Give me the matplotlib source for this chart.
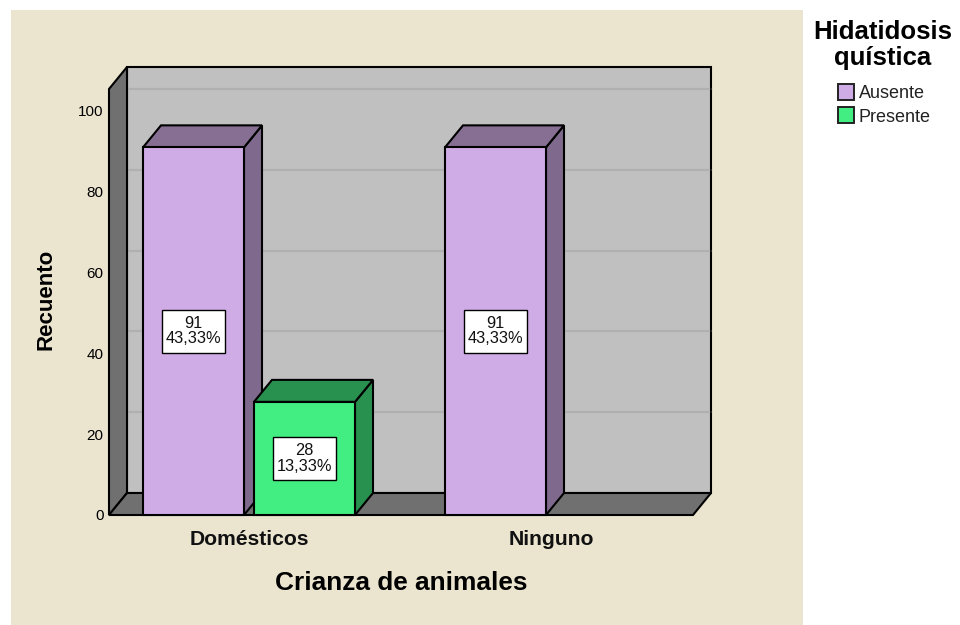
import matplotlib
matplotlib.use("Agg")
import matplotlib.pyplot as plt
from matplotlib.patches import Polygon, Rectangle

categories = ["Domésticos", "Ninguno"]
series_names = ["Ausente", "Presente"]
ausente = [91, 91]
presente = [28, None]
ausente_labels = ["91\n43,33%", "91\n43,33%"]
presente_labels = ["28\n13,33%", None]
y_ticks = [0, 20, 40, 60, 80, 100]

W, H = 960, 625
PANEL = "#ebe5d0"
WALL = "#c0c0c0"
DARK_WALL = "#707070"
GRID = "#b0b0b0"
C_A, C_A_TOP, C_A_SIDE = "#d0ace6", "#866f93", "#7f6a8d"
C_P, C_P_TOP, C_P_SIDE = "#42ee82", "#29914f", "#29914f"
LW = 1.5

plt.rcParams["font.family"] = ["Liberation Sans", "DejaVu Sans"]
fig = plt.figure(figsize=(W / 100, H / 100), dpi=100, facecolor="white")

def fx(p): return p / W
def fy(p): return 1 - p / H

fig.patches.append(Rectangle((fx(11), fy(625)), 792 / W, 615 / H, transform=fig.transFigure,
                             facecolor=PANEL, edgecolor="none", zorder=-5))

L, R, B, T = 109, 693, 515, 89
ax = fig.add_axes([fx(L), fy(B), (R - L) / W, (B - T) / H])
ax.patch.set_visible(False)
PX = 302.0
PY = 4.04
ax.set_xlim((L - 249) / PX, (R - 249) / PX)
ax.set_ylim(0, (B - T) / PY)
DX, DY = 18 / PX, 22 / PY
x0, x1 = ax.get_xlim()
y1 = ax.get_ylim()[1]

def poly(pts, fc, z, ec="black", lw=LW):
    ax.add_patch(Polygon(pts, closed=True, facecolor=fc, edgecolor=ec, linewidth=lw,
                         zorder=z, clip_on=False, joinstyle="miter"))

# back wall, gridlines, left wall, floor
poly([(x0 + DX, DY), (x1 + DX, DY), (x1 + DX, y1 + DY), (x0 + DX, y1 + DY)], WALL, 1)
for t in y_ticks[1:]:
    ax.plot([x0 + DX, x1 + DX], [t + DY, t + DY], color=GRID, lw=1.6, zorder=1.1, clip_on=False)
poly([(x0, 0), (x0 + DX, DY), (x0 + DX, y1 + DY), (x0, y1)], DARK_WALL, 1.2)
poly([(x0, 0), (x1, 0), (x1 + DX, DY), (x0 + DX, DY)], DARK_WALL, 1.2)
ax.plot([x0 + DX, x1 + DX, x1 + DX, x0 + DX, x0 + DX],
        [DY, DY, y1 + DY, y1 + DY, DY], color="black", lw=1.2, zorder=1.3, clip_on=False)

BOX_W, BOX_H = 63 / PX, 43 / PY

def bar3d(x, v, w, front, top, side, label):
    l, r = x - w / 2, x + w / 2
    poly([(r, 0), (r + DX, DY), (r + DX, v + DY), (r, v)], side, 3)
    poly([(l, v), (r, v), (r + DX, v + DY), (l + DX, v + DY)], top, 3)
    ax.bar([x], [v], width=w, color=front, edgecolor="black", linewidth=LW, zorder=3.5, clip_on=False)
    ax.add_patch(Rectangle((x - BOX_W / 2, v / 2 - BOX_H / 2), BOX_W, BOX_H, facecolor="white",
                           edgecolor="black", linewidth=1.0, zorder=4.5))
    ax.text(x, v / 2, label, ha="center", va="center", fontsize=11.8, color="#111111", zorder=5,
            linespacing=1.03)

W_BAR = 101 / PX
OFF = 55.5 / PX
for i in range(len(categories)):
    bar3d(i - OFF, ausente[i], W_BAR, C_A, C_A_TOP, C_A_SIDE, ausente_labels[i])
    if presente[i] is not None:
        bar3d(i + OFF, presente[i], W_BAR, C_P, C_P_TOP, C_P_SIDE, presente_labels[i])

for s in ax.spines.values():
    s.set_visible(False)
ax.set_xticks(range(len(categories)), categories, fontsize=15.2, fontweight="bold", color="#111111")
ax.set_yticks(y_ticks, [str(t) for t in y_ticks], fontsize=11)
ax.tick_params(axis="both", length=0)
ax.tick_params(axis="x", pad=10.5)
ax.tick_params(axis="y", pad=4)

fig.text(fx(401), fy(583), "Crianza de animales", ha="center", va="center", fontsize=18.9, fontweight="bold")
fig.text(fx(46), fy(299), "Recuento", ha="center", va="center", rotation=90, fontsize=16, fontweight="bold")

# legend
fig.text(fx(883), fy(45), "Hidatidosis\nquística", ha="center", va="center", fontsize=18.5,
         fontweight="bold", linespacing=1.08)
for name, col, yy in zip(series_names, [C_A, C_P], [92, 115]):
    fig.patches.append(Rectangle((fx(838), fy(yy + 8)), 16 / W, 16 / H, transform=fig.transFigure,
                                 facecolor=col, edgecolor="#222222", linewidth=1.4))
    fig.text(fx(859), fy(yy + 2), name, ha="left", va="center", fontsize=13, color="#222222")

fig.savefig("out.png", dpi=100, facecolor="white")
